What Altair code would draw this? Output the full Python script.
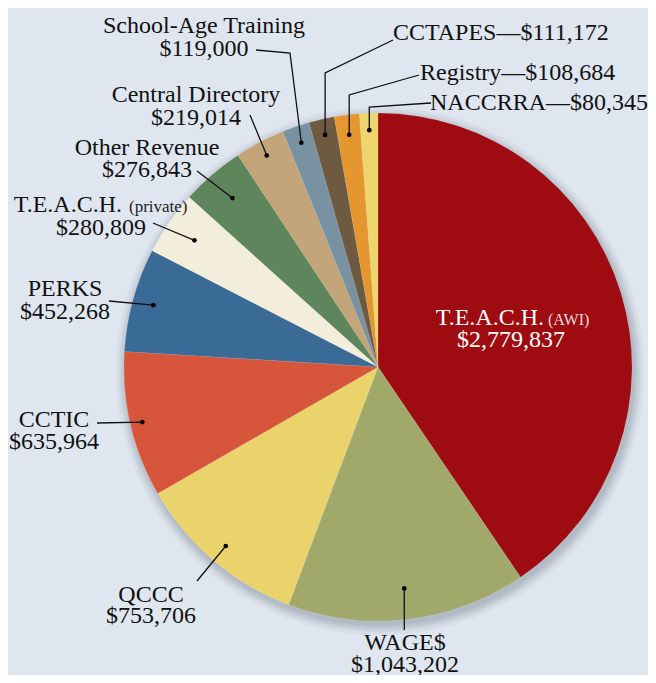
import math
import altair as alt
import pandas as pd

# ---------------- data ----------------
names = ["T.E.A.C.H. (AWI)", "WAGE$", "QCCC", "CCTIC", "PERKS",
         "T.E.A.C.H. (private)", "Other Revenue", "Central Directory",
         "School-Age Training", "CCTAPES", "Registry", "NACCRRA"]
values = [2779837, 1043202, 753706, 635964, 452268,
          280809, 276843, 219014, 119000, 111172, 108684, 80345]
colors = ["#9e0b10", "#a0a86a", "#ebd36b", "#d7553a", "#3a6b96",
          "#f2eedb", "#5e855c", "#c3a579", "#7892a2", "#6e5a40",
          "#e5962f", "#eed56d"]

# ---------------- layout (page pixel coords) ----------------
BG = "#dfe6ef"
W, H = 640, 667
CX, CY, R = 378, 367, 254
FONT = "Liberation Serif"
dot_r = [None, 223, 235, 242, 233, 223, 223, 239, 237, 238, 234, 237]

leaders = {
    "WAGE$": [("dx", 630)],
    "QCCC": [(197, 581)],
    "CCTIC": [(97, 423)],
    "PERKS": [(109, 301)],
    "T.E.A.C.H. (private)": [(153, 223)],
    "Other Revenue": [(197, 171)],
    "Central Directory": [(250, 115)],
    "School-Age Training": [(290, 53), (256, 50)],
    "CCTAPES": [("dx", 73), (393, 40)],
    "Registry": [("dx", 95), (419, 75)],
    "NACCRRA": [("dx", 107), (431, 103)],
}

def money(v):
    return "${:,}".format(v)

val = dict(zip(names, values))

# centered two-line labels: name -> (x, y1, y2)
center_labels = {
    "WAGE$": (405, 650, 672),
    "QCCC": (151, 601.5, 623),
    "CCTIC": (54, 426.5, 448.5),
    "PERKS": (65, 295.5, 319),
    "Other Revenue": (147, 155, 177),
    "Central Directory": (196, 101.5, 125),
    "School-Age Training": (204, 33, 56),
}
# single-line labels with em dash, left aligned: name -> (x, y)
dash_labels = {
    "CCTAPES": (393, 40),
    "Registry": (420, 80),
    "NACCRRA": (430, 110),
}

# ---------------- build tables ----------------
pie_df = pd.DataFrame({"name": names, "value": values, "idx": range(len(names))})

total = float(sum(values))
cum = 0.0
dot_rows, line_rows = [], []
for i, (n, v) in enumerate(zip(names, values)):
    mid = (cum + v / 2.0) / total * 2 * math.pi
    cum += v
    if dot_r[i] is None:
        continue
    dx = CX + dot_r[i] * math.sin(mid)
    dy = CY - dot_r[i] * math.cos(mid)
    dot_rows.append({"name": n, "x": dx, "y": dy})
    line_rows.append({"name": n, "step": 0, "x": dx, "y": dy})
    for k, (px, py) in enumerate(leaders[n]):
        line_rows.append({"name": n, "step": k + 1,
                          "x": dx if px == "dx" else px, "y": py})
dot_df = pd.DataFrame(dot_rows)
line_df = pd.DataFrame(line_rows)

center_rows = []
for n, (x, y1, y2) in center_labels.items():
    center_rows.append({"t": n, "x": x, "y": y1})
    center_rows.append({"t": money(val[n]), "x": x, "y": y2})
center_rows.append({"t": money(val["T.E.A.C.H. (private)"]), "x": 101, "y": 235})
center_df = pd.DataFrame(center_rows)

dash_df = pd.DataFrame([{"t": n + "\u2014" + money(val[n]), "x": x, "y": y}
                        for n, (x, y) in dash_labels.items()])

right_df = pd.DataFrame([{"t": "T.E.A.C.H.", "x": 122, "y": 211.5}])
small_df = pd.DataFrame([{"t": "(private)", "x": 129, "y": 211.5}])

awi_main = pd.DataFrame([{"t": "T.E.A.C.H.", "x": 544, "y": 325}])
awi_small = pd.DataFrame([{"t": "(AWI)", "x": 548, "y": 325}])
awi_val = pd.DataFrame([{"t": money(val["T.E.A.C.H. (AWI)"]), "x": 511, "y": 346.5}])

# page coordinates (8px body margin) mapped onto the plot area
xs = alt.Scale(domain=[8, 8 + W], range=[0, W], zero=False, nice=False)
ys = alt.Scale(domain=[8, 8 + H], range=[0, H], zero=False, nice=False)
X = alt.X("x:Q", scale=xs, axis=None)
Y = alt.Y("y:Q", scale=ys, axis=None)

dummy = pd.DataFrame({"a": [0]})
shadow_layers = []
for rad, op in [(255, 0.07), (257, 0.07), (259, 0.07), (261, 0.06), (264, 0.05)]:
    shadow_layers.append(
        alt.Chart(dummy).mark_arc(radius=rad, theta=0, theta2=2 * math.pi,
                                  fill="#4a5463", opacity=op)
        .encode(x=alt.value(CX - 8 + 2), y=alt.value(CY - 8 + 4))
    )

pie = alt.Chart(pie_df).mark_arc(radius=R, stroke="#ffffff", strokeWidth=0.3,
                                 strokeOpacity=0.35).encode(
    theta=alt.Theta("value:Q", stack=True),
    order=alt.Order("idx:Q"),
    color=alt.Color("name:N", scale=alt.Scale(domain=names, range=colors), legend=None),
    x=alt.value(CX - 8), y=alt.value(CY - 8),
)

lines = alt.Chart(line_df).mark_line(color="#111111", strokeWidth=1.3).encode(
    x=X, y=Y, detail="name:N", order="step:Q")

dots = alt.Chart(dot_df).mark_circle(color="#000000", size=22, opacity=1).encode(x=X, y=Y)

def txt(df, align, size, color="#111111"):
    return alt.Chart(df).mark_text(align=align, baseline="alphabetic", font=FONT,
                                   fontSize=size, color=color).encode(
        x=X, y=Y, text="t:N")

layers = shadow_layers + [
    pie, lines, dots,
    txt(center_df, "center", 24),
    txt(dash_df, "left", 24),
    txt(right_df, "right", 24),
    txt(small_df, "left", 17, "#222222"),
    txt(awi_main, "right", 24, "#ffffff"),
    txt(awi_small, "left", 16, "#f2dede"),
    txt(awi_val, "center", 24, "#ffffff"),
]

chart = alt.layer(*layers).properties(
    width=W, height=H, background=BG,
    autosize=alt.AutoSizeParams(type="none"), padding=0,
).configure_view(stroke=None)

chart.save("out.html", embed_options={"renderer": "svg", "actions": False})
